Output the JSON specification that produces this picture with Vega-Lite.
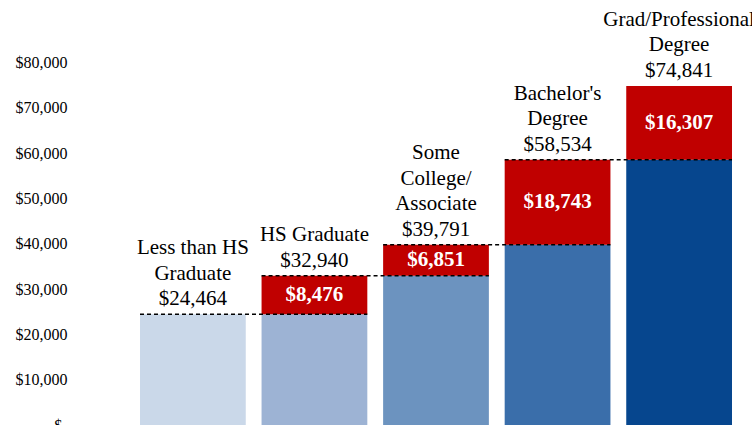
{
  "$schema": "https://vega.github.io/schema/vega-lite/v6.json",
  "width": 677,
  "height": 425,
  "autosize": {"type": "none"},
  "padding": {"left": 75, "top": 0, "right": 0, "bottom": 0},
  "background": "white",
  "config": {"view": {"stroke": null}, "font": "Liberation Serif"},
  "datasets": {
    "bars": [
      {"cat": "Less than HS Graduate", "part": "Less than HS Graduate", "y0": 0, "y1": 24464, "amount": 24464},
      {"cat": "HS Graduate", "part": "HS Graduate", "y0": 0, "y1": 24464, "amount": 24464},
      {"cat": "HS Graduate", "part": "Increase", "y0": 24464, "y1": 32940, "amount": 8476},
      {"cat": "Some College/Associate", "part": "Some College/Associate", "y0": 0, "y1": 32940, "amount": 32940},
      {"cat": "Some College/Associate", "part": "Increase", "y0": 32940, "y1": 39791, "amount": 6851},
      {"cat": "Bachelor's Degree", "part": "Bachelor's Degree", "y0": 0, "y1": 39791, "amount": 39791},
      {"cat": "Bachelor's Degree", "part": "Increase", "y0": 39791, "y1": 58534, "amount": 18743},
      {"cat": "Grad/Professional Degree", "part": "Grad/Professional Degree", "y0": 0, "y1": 58534, "amount": 58534},
      {"cat": "Grad/Professional Degree", "part": "Increase", "y0": 58534, "y1": 74841, "amount": 16307}
    ],
    "steps": [
      {"from": "Less than HS Graduate", "to": "HS Graduate", "v": 24464},
      {"from": "HS Graduate", "to": "Some College/Associate", "v": 32940},
      {"from": "Some College/Associate", "to": "Bachelor's Degree", "v": 39791},
      {"from": "Bachelor's Degree", "to": "Grad/Professional Degree", "v": 58534}
    ],
    "tops": [
      {"cat": "Less than HS Graduate", "total": 24464, "line": 2, "text": "Less than HS"},
      {"cat": "Less than HS Graduate", "total": 24464, "line": 1, "text": "Graduate"},
      {"cat": "Less than HS Graduate", "total": 24464, "line": 0, "text": "$24,464"},
      {"cat": "HS Graduate", "total": 32940, "line": 1, "text": "HS Graduate"},
      {"cat": "HS Graduate", "total": 32940, "line": 0, "text": "$32,940"},
      {"cat": "Some College/Associate", "total": 39791, "line": 3, "text": "Some"},
      {"cat": "Some College/Associate", "total": 39791, "line": 2, "text": "College/"},
      {"cat": "Some College/Associate", "total": 39791, "line": 1, "text": "Associate"},
      {"cat": "Some College/Associate", "total": 39791, "line": 0, "text": "$39,791"},
      {"cat": "Bachelor's Degree", "total": 58534, "line": 2, "text": "Bachelor's"},
      {"cat": "Bachelor's Degree", "total": 58534, "line": 1, "text": "Degree"},
      {"cat": "Bachelor's Degree", "total": 58534, "line": 0, "text": "$58,534"},
      {"cat": "Grad/Professional Degree", "total": 74841, "line": 2, "text": "Grad/Professional"},
      {"cat": "Grad/Professional Degree", "total": 74841, "line": 1, "text": "Degree"},
      {"cat": "Grad/Professional Degree", "total": 74841, "line": 0, "text": "$74,841"}
    ]
  },
  "layer": [
    {
      "data": {"name": "bars"},
      "mark": {"type": "bar"},
      "encoding": {
        "x": {
          "field": "cat", "type": "nominal",
          "scale": {
            "domain": ["Less than HS Graduate", "HS Graduate", "Some College/Associate", "Bachelor's Degree", "Grad/Professional Degree"],
            "range": [65, 657], "paddingInner": 0.13, "paddingOuter": 0
          },
          "axis": null
        },
        "y": {
          "field": "y0", "type": "quantitative",
          "scale": {"domain": [0, 93820], "nice": false},
          "axis": {
            "values": [0, 10000, 20000, 30000, 40000, 50000, 60000, 70000, 80000],
            "labelExpr": "datum.value == 0 ? '$-' : '$' + format(datum.value, ',d')",
            "domain": false, "ticks": false, "tickSize": 0, "grid": false, "title": null,
            "labelFont": "Liberation Serif", "labelFontSize": 16, "labelColor": "#000000",
            "labelPadding": 8
          }
        },
        "y2": {"field": "y1"},
        "color": {
          "field": "part", "type": "nominal",
          "scale": {
            "domain": ["Less than HS Graduate", "HS Graduate", "Some College/Associate", "Bachelor's Degree", "Grad/Professional Degree", "Increase"],
            "range": ["#CAD8E9", "#9DB3D4", "#6C93BF", "#3A6EAA", "#06468E", "#C00000"]
          },
          "legend": null
        }
      }
    },
    {
      "data": {"name": "steps"},
      "mark": {"type": "rule", "color": "#000000", "strokeWidth": 1.5, "strokeDash": [4, 3]},
      "encoding": {
        "x": {"field": "from", "type": "nominal", "bandPosition": 0},
        "x2": {"field": "to", "bandPosition": 1},
        "y": {"field": "v", "type": "quantitative"}
      }
    },
    {
      "data": {"name": "tops"},
      "transform": [{"filter": "datum.line == 0"}],
      "mark": {"type": "text", "baseline": "bottom", "align": "center", "dy": -5, "fontSize": 21, "font": "Liberation Serif", "color": "#000000"},
      "encoding": {
        "x": {"field": "cat", "type": "nominal"},
        "y": {"field": "total", "type": "quantitative"},
        "text": {"field": "text", "type": "nominal"}
      }
    },
    {
      "data": {"name": "tops"},
      "transform": [{"filter": "datum.line == 1"}],
      "mark": {"type": "text", "baseline": "bottom", "align": "center", "dy": -30.5, "fontSize": 21, "font": "Liberation Serif", "color": "#000000"},
      "encoding": {
        "x": {"field": "cat", "type": "nominal"},
        "y": {"field": "total", "type": "quantitative"},
        "text": {"field": "text", "type": "nominal"}
      }
    },
    {
      "data": {"name": "tops"},
      "transform": [{"filter": "datum.line == 2"}],
      "mark": {"type": "text", "baseline": "bottom", "align": "center", "dy": -56, "fontSize": 21, "font": "Liberation Serif", "color": "#000000"},
      "encoding": {
        "x": {"field": "cat", "type": "nominal"},
        "y": {"field": "total", "type": "quantitative"},
        "text": {"field": "text", "type": "nominal"}
      }
    },
    {
      "data": {"name": "tops"},
      "transform": [{"filter": "datum.line == 3"}],
      "mark": {"type": "text", "baseline": "bottom", "align": "center", "dy": -81.5, "fontSize": 21, "font": "Liberation Serif", "color": "#000000"},
      "encoding": {
        "x": {"field": "cat", "type": "nominal"},
        "y": {"field": "total", "type": "quantitative"},
        "text": {"field": "text", "type": "nominal"}
      }
    },
    {
      "data": {"name": "bars"},
      "transform": [
        {"filter": "datum.part == 'Increase'"},
        {"fold": ["y0", "y1"], "as": ["k", "v"]}
      ],
      "mark": {"type": "text", "baseline": "middle", "align": "center", "fontSize": 21, "fontWeight": "bold", "font": "Liberation Serif", "color": "#FFFFFF"},
      "encoding": {
        "x": {"field": "cat", "type": "nominal"},
        "y": {"aggregate": "mean", "field": "v", "type": "quantitative"},
        "text": {"field": "amount", "type": "quantitative", "format": "$,d"}
      }
    }
  ]
}
